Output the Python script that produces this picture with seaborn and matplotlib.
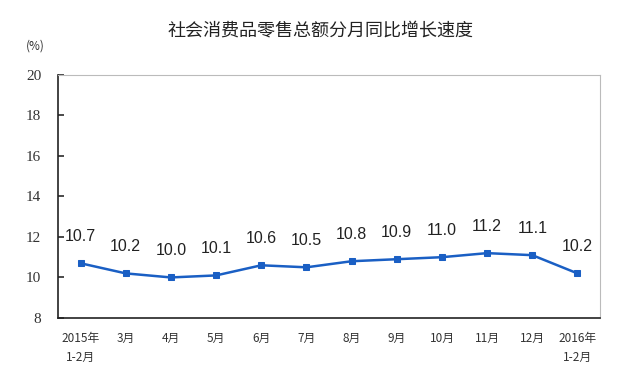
import matplotlib
matplotlib.use('Agg')
import matplotlib.pyplot as plt
import seaborn as sns
import numpy as np
import pandas as pd

# ── DATA ──────────────────────────────────────────────────────────────
months = ["2015年\n1-2月", "3月", "4月", "5月", "6月", "7月", "8月",
          "9月", "10月", "11月", "12月", "2016年\n1-2月"]
growth = [10.7, 10.2, 10.0, 10.1, 10.6, 10.5, 10.8, 10.9, 11.0, 11.2, 11.1, 10.2]
y_ticks = [8, 10, 12, 14, 16, 18, 20]

TITLE = "社会消费品零售总额分月同比增长速度"
UNIT = "(%)"
BLUE = "#1a5fc4"

df = pd.DataFrame({"pos": np.arange(len(months)), "growth": growth})

# ── PLOT ──────────────────────────────────────────────────────────────
sns.set_theme(style="white")
plt.rcParams['font.family'] = ['Noto Sans CJK SC', 'DejaVu Sans']

fig = plt.figure(figsize=(6.4, 3.84), dpi=100)
ax = fig.add_axes([0.0906, 0.172, 0.847, 0.633])

sns.lineplot(data=df, x="pos", y="growth", ax=ax, color=BLUE, linewidth=1.8,
             marker="s", markersize=5, markeredgecolor=BLUE)

for x, v in zip(df["pos"], growth):
    ax.annotate(f"{v:.1f}", (x, v), xytext=(0, 14), textcoords="offset points",
                ha="center", va="bottom", fontsize=11.5, color="#222222",
                family=["Liberation Sans", "DejaVu Sans"])

ax.set_xlim(-0.5, len(months) - 0.5)
ax.set_ylim(8, 20)
ax.set_yticks(y_ticks)
ax.set_yticklabels([str(t) for t in y_ticks], family=["Liberation Serif"],
                   fontsize=11, color="#333333")
ax.set_xticks(np.arange(len(months)))
ax.set_xticklabels(months, fontsize=8.5, color="#333333", linespacing=1.6)
ax.set_xticks(np.arange(len(months) - 1) + 0.5, minor=True)
ax.tick_params(axis="x", which="major", length=0, pad=10)
ax.tick_params(axis="x", which="minor", direction="in", length=4, color="#333333")
ax.tick_params(axis="y", direction="in", length=4, left=True, color="#333333", pad=12)
ax.set_xlabel("")
ax.set_ylabel("")

for side in ["left", "bottom"]:
    ax.spines[side].set_color("#222222")
    ax.spines[side].set_linewidth(1.2)
for side in ["top", "right"]:
    ax.spines[side].set_color("#bbbbbb")
    ax.spines[side].set_linewidth(0.8)

fig.text(0.5, 0.92, TITLE, ha="center", va="center", fontsize=13, color="#222222")
fig.text(0.055, 0.88, UNIT, ha="center", va="center", fontsize=8.5, color="#333333")

plt.savefig("out.png", dpi=100)
